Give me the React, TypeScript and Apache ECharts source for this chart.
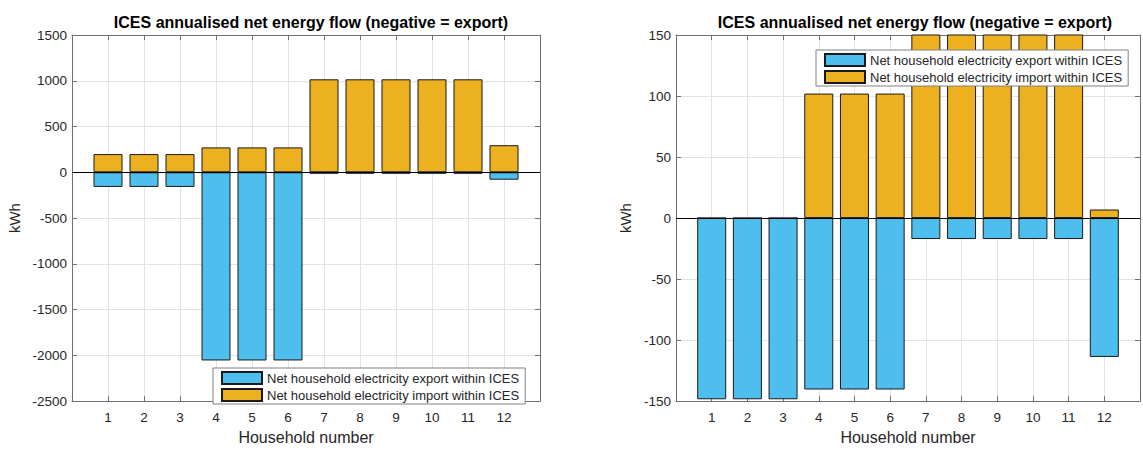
import React, { useEffect, useRef } from "react";
import * as echarts from "echarts";

const households = [1, 2, 3, 4, 5, 6, 7, 8, 9, 10, 11, 12];
const exportLeft = [-160, -160, -160, -2056, -2056, -2056, -16, -16, -16, -16, -16, -81];
const importLeft = [199, 199, 199, 272, 272, 272, 1016, 1016, 1016, 1016, 1016, 296];
const exportRight = [-148.5, -148.5, -148.5, -140.5, -140.5, -140.5, -17.2, -17.2, -17.2, -17.2, -17.2, -113.8];
const importRight = [0, 0, 0, 102, 102, 102, 420, 420, 420, 420, 420, 7];

const titleText = "ICES annualised net energy flow (negative = export)";
const exportName = "Net household electricity export within ICES";
const importName = "Net household electricity import within ICES";
const xName = "Household number";
const yName = "kWh";

const FONT = "Liberation Sans, Arial, Helvetica, sans-serif";
const TXT = "#262626";
const AX = "#707070";
const GRIDC = "#e3e3e3";
const BLUE = "#4DBEEE";
const ORANGE = "#EDB120";

export default function App() {
  const ref = useRef<HTMLDivElement>(null);
  useEffect(() => {
    if (!ref.current) return;
    const chart = echarts.init(ref.current, undefined, { renderer: "svg" });
    const grids = [
      { left: 72, top: 35, width: 468, height: 371 },
      { left: 676, top: 35, width: 469, height: 371 },
    ];
    const xAxes: any[] = [];
    const yAxes: any[] = [];
    const yRanges = [
      { min: -2500, max: 1500, interval: 500, gap: 50 },
      { min: -150, max: 150, interval: 50, gap: 43 },
    ];
    grids.forEach((_, gi) => {
      xAxes.push({
        type: "value",
        gridIndex: gi,
        position: "bottom",
        min: 0,
        max: 13,
        interval: 1,
        name: xName,
        nameLocation: "middle",
        nameGap: 25,
        nameTextStyle: { fontFamily: FONT, fontSize: 16, color: TXT },
        axisLine: { show: true, onZero: false, lineStyle: { color: AX, width: 1 } },
        axisTick: { show: true, inside: true, length: 5, lineStyle: { color: AX } },
        axisLabel: {
          fontFamily: FONT,
          fontSize: 13.5,
          color: TXT,
          margin: 9,
          formatter: (v: number) => (v === 0 || v === 13 ? "" : String(v)),
        },
        splitLine: { show: true, lineStyle: { color: GRIDC, width: 1 } },
      });
      xAxes.push({
        type: "value",
        gridIndex: gi,
        position: "top",
        min: 0,
        max: 13,
        interval: 1,
        axisLine: { show: true, onZero: false, lineStyle: { color: AX, width: 1 } },
        axisTick: { show: true, inside: true, length: 5, lineStyle: { color: AX } },
        axisLabel: { show: false },
        splitLine: { show: false },
      });
      const yr = yRanges[gi];
      yAxes.push({
        type: "value",
        gridIndex: gi,
        position: "left",
        min: yr.min,
        max: yr.max,
        interval: yr.interval,
        name: yName,
        nameLocation: "middle",
        nameGap: yr.gap,
        nameTextStyle: { fontFamily: FONT, fontSize: 15, color: TXT },
        axisLine: { show: true, onZero: false, lineStyle: { color: AX, width: 1 } },
        axisTick: { show: true, inside: true, length: 5, lineStyle: { color: AX } },
        axisLabel: {
          fontFamily: FONT,
          fontSize: 13.5,
          color: TXT,
          margin: 5,
          formatter: (v: number) => String(v),
        },
        splitLine: { show: true, lineStyle: { color: GRIDC, width: 1 } },
      });
      yAxes.push({
        type: "value",
        gridIndex: gi,
        position: "right",
        min: yr.min,
        max: yr.max,
        interval: yr.interval,
        axisLine: { show: true, onZero: false, lineStyle: { color: AX, width: 1 } },
        axisTick: { show: true, inside: true, length: 5, lineStyle: { color: AX } },
        axisLabel: { show: false },
        splitLine: { show: false },
      });
    });

    const mk = (name: string, data: number[], color: string, gi: number, baseline: boolean) => ({
      type: "bar",
      name,
      xAxisIndex: gi * 2,
      yAxisIndex: gi * 2,
      stack: "s" + gi,
      barWidth: 29,
      data: households.map((h, i) => [h, data[i]]),
      itemStyle: { color, borderColor: "#1a1a1a", borderWidth: 1 },
      clip: true,
      markLine: baseline
        ? {
            silent: true,
            symbol: ["none", "none"],
            label: { show: false },
            lineStyle: { color: "#000", width: 1, type: "solid" },
            data: [{ yAxis: 0 }],
          }
        : undefined,
    });

    const legendCommon = {
      orient: "vertical",
      itemWidth: 40,
      itemHeight: 12,
      itemGap: 3,
      padding: [3, 6, 2, 8],
      borderColor: "#808080",
      borderWidth: 1,
      backgroundColor: "#fff",
      icon: "rect",
      textStyle: { fontFamily: FONT, fontSize: 13, color: TXT },
      data: [exportName, importName],
      selectedMode: false,
    };

    const titleStyle = { fontFamily: FONT, fontSize: 16, fontWeight: "bold", color: "#000" };

    chart.setOption({
      animation: false,
      backgroundColor: "#fff",
      title: [
        { text: titleText, left: 306, top: 9, textAlign: "center", textStyle: titleStyle },
        { text: titleText, left: 910, top: 9, textAlign: "center", textStyle: titleStyle },
      ],
      legend: [
        { ...legendCommon, left: 213, top: 368 },
        { ...legendCommon, left: 816, top: 50 },
      ],
      grid: grids,
      xAxis: xAxes,
      yAxis: yAxes,
      series: [
        mk(exportName, exportLeft, BLUE, 0, false),
        mk(importName, importLeft, ORANGE, 0, true),
        mk(exportName, exportRight, BLUE, 1, false),
        mk(importName, importRight, ORANGE, 1, true),
      ],
    });
    return () => chart.dispose();
  }, []);
  return (
    <div
      ref={ref}
      style={{ position: "fixed", left: 0, top: 0, width: 1143, height: 450, background: "#fff" }}
    />
  );
}
